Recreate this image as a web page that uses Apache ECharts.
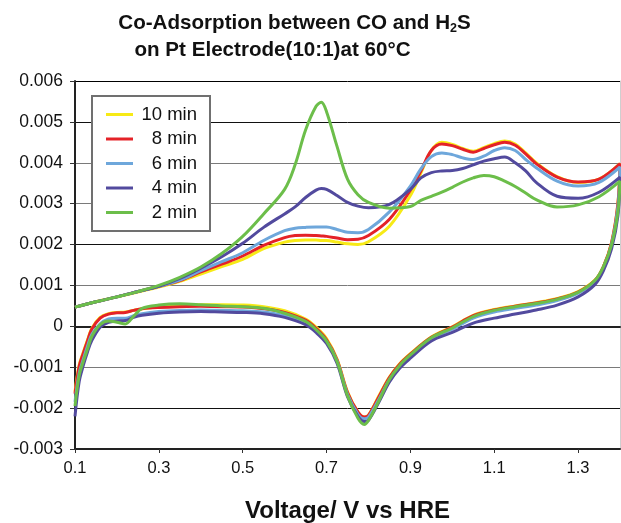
<!DOCTYPE html>
<html>
<head>
<meta charset="utf-8">
<script src="https://cdn.jsdelivr.net/npm/echarts@6/dist/echarts.min.js"></script>
<style>
  html, body { margin: 0; padding: 0; background: #fff; }
  #chart { width: 621px; height: 523px; }
</style>
</head>
<body>
<div id="chart"></div>
<script>
// anodic sweep (upper branch), voltage in V
var vUp = [0.1, 0.15, 0.2, 0.25, 0.3, 0.35, 0.4, 0.45, 0.5, 0.55, 0.6, 0.625, 0.65, 0.675, 0.6875, 0.7, 0.725, 0.75, 0.775, 0.8, 0.85,
  0.9, 0.925, 0.95, 0.975, 1.0, 1.025, 1.05, 1.075, 1.1, 1.125, 1.15, 1.175, 1.2, 1.25, 1.3, 1.35, 1.4]
// cathodic sweep (lower branch)
var vDown = [1.395, 1.38, 1.36, 1.34, 1.3, 1.25, 1.2, 1.15, 1.1, 1.05, 1.0, 0.95, 0.9, 0.875, 0.85, 0.825, 0.8, 0.79, 0.775, 0.75,
  0.725, 0.7, 0.675, 0.65, 0.6, 0.55, 0.5, 0.45, 0.4, 0.35, 0.3, 0.26, 0.24, 0.22, 0.2, 0.18, 0.16, 0.14, 0.13, 0.12, 0.11, 0.1]

var up10 = [0.47e-3, 0.6e-3, 0.72e-3, 0.84e-3, 0.96e-3, 1.1e-3, 1.28e-3, 1.46e-3, 1.64e-3, 1.9e-3, 2.06e-3, 2.1e-3, 2.11e-3, 2.11e-3, 2.1e-3, 2.1e-3, 2.06e-3, 2.02e-3, 2.0e-3, 2.07e-3, 2.45e-3,
  3.2e-3, 3.75e-3, 4.3e-3, 4.5e-3, 4.45e-3, 4.35e-3, 4.28e-3, 4.37e-3, 4.47e-3, 4.53e-3, 4.46e-3, 4.24e-3, 4.0e-3, 3.66e-3, 3.52e-3, 3.6e-3, 3.98e-3]
var down10 = [3.0e-3, 2.05e-3, 1.45e-3, 1.13e-3, 0.85e-3, 0.68e-3, 0.58e-3, 0.5e-3, 0.41e-3, 0.27e-3, -0.01e-3, -0.26e-3, -0.67e-3, -0.91e-3, -1.24e-3, -1.7e-3, -2.17e-3, -2.22e-3, -2.1e-3, -1.6e-3,
  -0.8e-3, -0.3e-3, -0.02e-3, 0.18e-3, 0.38e-3, 0.48e-3, 0.52e-3, 0.53e-3, 0.53e-3, 0.52e-3, 0.48e-3, 0.43e-3, 0.39e-3, 0.35e-3, 0.34e-3, 0.31e-3, 0.22e-3, -0.05e-3, -0.33e-3, -0.63e-3, -0.95e-3, -1.6e-3]

var up8 = [0.47e-3, 0.6e-3, 0.72e-3, 0.85e-3, 0.98e-3, 1.12e-3, 1.33e-3, 1.52e-3, 1.72e-3, 1.98e-3, 2.17e-3, 2.22e-3, 2.23e-3, 2.22e-3, 2.21e-3, 2.2e-3, 2.16e-3, 2.12e-3, 2.13e-3, 2.22e-3, 2.62e-3,
  3.33e-3, 3.8e-3, 4.3e-3, 4.46e-3, 4.42e-3, 4.33e-3, 4.26e-3, 4.35e-3, 4.44e-3, 4.5e-3, 4.43e-3, 4.22e-3, 3.98e-3, 3.65e-3, 3.53e-3, 3.6e-3, 3.98e-3]
var down8 = [3.0e-3, 2.05e-3, 1.45e-3, 1.12e-3, 0.84e-3, 0.67e-3, 0.57e-3, 0.49e-3, 0.4e-3, 0.26e-3, -0.02e-3, -0.27e-3, -0.68e-3, -0.92e-3, -1.25e-3, -1.72e-3, -2.18e-3, -2.22e-3, -2.1e-3, -1.62e-3,
  -0.82e-3, -0.33e-3, -0.05e-3, 0.15e-3, 0.34e-3, 0.43e-3, 0.47e-3, 0.48e-3, 0.49e-3, 0.48e-3, 0.46e-3, 0.43e-3, 0.39e-3, 0.34e-3, 0.33e-3, 0.3e-3, 0.2e-3, -0.07e-3, -0.35e-3, -0.65e-3, -0.98e-3, -1.65e-3]

var up6 = [0.47e-3, 0.6e-3, 0.72e-3, 0.85e-3, 0.98e-3, 1.13e-3, 1.36e-3, 1.58e-3, 1.8e-3, 2.1e-3, 2.34e-3, 2.4e-3, 2.42e-3, 2.43e-3, 2.43e-3, 2.43e-3, 2.37e-3, 2.3e-3, 2.29e-3, 2.37e-3, 2.8e-3,
  3.43e-3, 3.85e-3, 4.15e-3, 4.24e-3, 4.2e-3, 4.12e-3, 4.08e-3, 4.16e-3, 4.3e-3, 4.37e-3, 4.3e-3, 4.08e-3, 3.88e-3, 3.55e-3, 3.43e-3, 3.52e-3, 3.9e-3]
var down6 = [2.9e-3, 2.0e-3, 1.42e-3, 1.1e-3, 0.81e-3, 0.63e-3, 0.52e-3, 0.44e-3, 0.35e-3, 0.2e-3, -0.07e-3, -0.3e-3, -0.72e-3, -0.97e-3, -1.3e-3, -1.78e-3, -2.22e-3, -2.26e-3, -2.15e-3, -1.66e-3,
  -0.85e-3, -0.37e-3, -0.1e-3, 0.08e-3, 0.26e-3, 0.35e-3, 0.38e-3, 0.39e-3, 0.4e-3, 0.39e-3, 0.36e-3, 0.31e-3, 0.26e-3, 0.2e-3, 0.2e-3, 0.18e-3, 0.06e-3, -0.2e-3, -0.48e-3, -0.8e-3, -1.15e-3, -1.85e-3]

var up4 = [0.47e-3, 0.6e-3, 0.72e-3, 0.85e-3, 0.98e-3, 1.17e-3, 1.42e-3, 1.7e-3, 2.03e-3, 2.42e-3, 2.75e-3, 2.92e-3, 3.15e-3, 3.33e-3, 3.37e-3, 3.35e-3, 3.2e-3, 3.03e-3, 2.94e-3, 2.9e-3, 2.98e-3,
  3.35e-3, 3.63e-3, 3.76e-3, 3.8e-3, 3.81e-3, 3.86e-3, 3.95e-3, 4.04e-3, 4.1e-3, 4.14e-3, 4.0e-3, 3.8e-3, 3.52e-3, 3.18e-3, 3.13e-3, 3.28e-3, 3.65e-3]
var down4 = [2.7e-3, 1.9e-3, 1.35e-3, 1.02e-3, 0.72e-3, 0.52e-3, 0.4e-3, 0.3e-3, 0.2e-3, 0.08e-3, -0.15e-3, -0.36e-3, -0.78e-3, -1.02e-3, -1.36e-3, -1.85e-3, -2.3e-3, -2.33e-3, -2.2e-3, -1.72e-3,
  -0.9e-3, -0.42e-3, -0.15e-3, 0.04e-3, 0.22e-3, 0.31e-3, 0.34e-3, 0.35e-3, 0.36e-3, 0.35e-3, 0.32e-3, 0.27e-3, 0.22e-3, 0.14e-3, 0.13e-3, 0.1e-3, -0.02e-3, -0.35e-3, -0.62e-3, -0.95e-3, -1.35e-3, -2.2e-3]

var up2 = [0.47e-3, 0.6e-3, 0.72e-3, 0.85e-3, 1.0e-3, 1.2e-3, 1.45e-3, 1.78e-3, 2.2e-3, 2.75e-3, 3.35e-3, 3.95e-3, 4.8e-3, 5.38e-3, 5.48e-3, 5.25e-3, 4.4e-3, 3.6e-3, 3.22e-3, 3.03e-3, 2.89e-3,
  2.93e-3, 3.08e-3, 3.18e-3, 3.28e-3, 3.4e-3, 3.53e-3, 3.63e-3, 3.69e-3, 3.66e-3, 3.55e-3, 3.42e-3, 3.26e-3, 3.1e-3, 2.92e-3, 2.97e-3, 3.17e-3, 3.55e-3]
var down2 = [2.8e-3, 2.0e-3, 1.45e-3, 1.12e-3, 0.83e-3, 0.66e-3, 0.56e-3, 0.48e-3, 0.39e-3, 0.24e-3, -0.04e-3, -0.28e-3, -0.7e-3, -0.95e-3, -1.3e-3, -1.82e-3, -2.3e-3, -2.4e-3, -2.25e-3, -1.7e-3,
  -0.86e-3, -0.36e-3, -0.08e-3, 0.12e-3, 0.32e-3, 0.44e-3, 0.48e-3, 0.5e-3, 0.53e-3, 0.55e-3, 0.52e-3, 0.44e-3, 0.25e-3, 0.06e-3, 0.1e-3, 0.13e-3, 0.04e-3, -0.25e-3, -0.55e-3, -0.85e-3, -1.2e-3, -1.95e-3]

var names = ['10 min', '8 min', '6 min', '4 min', '2 min']
var colors = ['#F7EA16', '#E42228', '#6EA7DB', '#524A9E', '#6CBE4A']
var upSets = [up10, up8, up6, up4, up2]
var downSets = [down10, down8, down6, down4, down2]

var xTicks = [0.1, 0.3, 0.5, 0.7, 0.9, 1.1, 1.3]

function loop(up, down) {
  var pts = vUp.map(function (v, i) { return [v, up[i]] })
  return pts.concat(vDown.map(function (v, i) { return [v, down[i]] }))
}

var chart = echarts.init(document.getElementById('chart'))

var font = 'Liberation Sans, Arial, sans-serif'

chart.setOption({
  backgroundColor: '#fff',
  animation: false,
  textStyle: { fontFamily: font },
  title: {
    left: 'center',
    top: 10,
    padding: 0,
    // empty tokens at the line ends shift the centred lines left, like the original
    text: '{t|Co-Adsorption between CO and H}{s|2}{t|S}{e|}\n{t|on Pt Electrode(10:1)at 60°C}{f|}',
    textStyle: {
      rich: {
        t: { fontSize: 20.6, fontWeight: 'bold', color: '#111', lineHeight: 27, fontFamily: font },
        s: { fontSize: 12.5, fontWeight: 'bold', color: '#111', padding: [10, 0, 0, 0], fontFamily: font },
        e: { width: 32 },
        f: { width: 76 }
      }
    }
  },
  legend: {
    orient: 'vertical',
    left: 92,
    top: 96,
    padding: [9, 13, 9, 14],
    itemGap: 5.5,
    itemWidth: 27,
    itemHeight: 3,
    icon: 'rect',
    selectedMode: false,
    backgroundColor: '#fff',
    borderColor: '#707070',
    borderWidth: 2,
    data: names,
    formatter: function (n) { return '{a|' + n + '}' },
    textStyle: {
      rich: {
        a: { width: 59, align: 'right', fontSize: 18.5, lineHeight: 19, color: '#111', fontFamily: font }
      }
    }
  },
  grid: { left: 75, right: 1, top: 81, bottom: 74, outerBoundsMode: 'none' },
  xAxis: [{
    type: 'value',
    min: 0.1,
    max: 1.4,
    name: 'Voltage/ V vs HRE',
    nameLocation: 'middle',
    nameGap: 50,
    nameTextStyle: { fontSize: 24, fontWeight: 'bold', color: '#111' },
    axisLine: { onZero: false, lineStyle: { color: '#222', width: 2 } },
    axisTick: { show: true, length: 4, customValues: xTicks, lineStyle: { color: '#333' } },
    axisLabel: {
      customValues: xTicks,
      margin: 11,
      fontSize: 16.5,
      color: '#111',
      formatter: function (v) { return v.toFixed(1) }
    },
    splitLine: { show: false }
  }, {
    type: 'value',
    position: 'top',
    min: 0.1,
    max: 1.4,
    axisLine: { lineStyle: { color: '#222', width: 2 } },
    axisTick: { show: false },
    axisLabel: { show: false },
    splitLine: { show: false }
  }],
  yAxis: [{
    type: 'value',
    min: -0.003,
    max: 0.006,
    interval: 0.001,
    axisLine: { onZero: false, show: true, lineStyle: { color: '#222', width: 2 } },
    axisTick: { show: true, length: 5, lineStyle: { color: '#333' } },
    axisLabel: {
      margin: 12,
      fontSize: 17.5,
      color: '#111',
      showMinLabel: true,
      showMaxLabel: true,
      formatter: function (v) { return String(+v.toFixed(3)) }
    },
    splitLine: {
      show: true,
      lineStyle: { color: ['#000', '#111', '#7a7a7a', '#7a7a7a', '#7a7a7a', '#111', '#7a7a7a', '#7a7a7a', '#111', '#000'], width: 1 }
    }
  }, {
    type: 'value',
    position: 'right',
    min: -0.003,
    max: 0.006,
    axisLine: { show: true, lineStyle: { color: '#cfcfcf', width: 1 } },
    axisTick: { show: false },
    axisLabel: { show: false },
    splitLine: { show: false }
  }],
  series: names.map(function (n, k) {
    return {
      name: n,
      type: 'line',
      data: loop(upSets[k], downSets[k]),
      showSymbol: false,
      symbol: 'none',
      smooth: 0.35,
      color: colors[k],
      lineStyle: { color: colors[k], width: 3 }
    }
  })
})
</script>
</body>
</html>
